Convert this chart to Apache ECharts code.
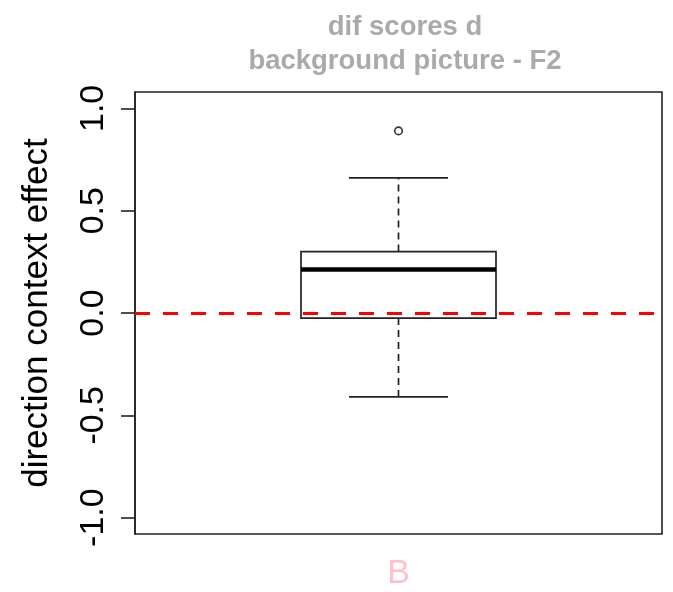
<!DOCTYPE html>
<html>
<head>
<meta charset="utf-8">
<script src="https://cdn.jsdelivr.net/npm/echarts@6/dist/echarts.min.js"></script>
<style>html,body{margin:0;padding:0;background:#fff;}#c{width:673px;height:592px;}</style>
</head>
<body>
<div id="c"></div>
<script>
const categories = ['B'];
const lowerWhisker = [-0.41];
const q1 = [-0.025];
const median = [0.212];
const q3 = [0.30];
const upperWhisker = [0.66];
const outliers = [[0, 0.89]];
const yTicks = [-1.0, -0.5, 0.0, 0.5, 1.0];
const refLine = 0;

const FONT = 'Liberation Sans, Arial, sans-serif';
const chart = echarts.init(document.getElementById('c'));
chart.setOption({
  animation: false,
  backgroundColor: '#fff',
  title: {
    text: 'dif scores d\nbackground picture - F2',
    left: 400, top: 5, textAlign: 'center',
    textStyle: { color: '#aaaaaa', fontWeight: 'bold', fontSize: 27.5, lineHeight: 34, fontFamily: FONT }
  },
  grid: { left: 135, right: 11, top: 92, bottom: 58, show: true, borderColor: '#222', borderWidth: 1.6, backgroundColor: 'transparent' },
  xAxis: {
    type: 'category', data: categories,
    axisLine: { show: false }, axisTick: { show: false },
    axisLabel: { color: '#ffc0cb', fontSize: 34, fontFamily: FONT, margin: 23 }
  },
  yAxis: {
    type: 'value', min: -1.08, max: 1.08,
    name: 'direction context effect', nameLocation: 'middle', nameGap: 80, nameRotate: 90,
    nameTextStyle: { color: '#000', fontSize: 35, fontFamily: FONT },
    axisLine: { show: true, lineStyle: { color: '#222', width: 1.6 } },
    axisTick: { show: true, length: 14, customValues: yTicks, lineStyle: { color: '#222', width: 1.6 } },
    axisLabel: { customValues: yTicks, rotate: 90, color: '#000', fontSize: 34, fontFamily: FONT, margin: 24,
      formatter: v => v.toFixed(1) },
    splitLine: { show: false }
  },
  series: [
    {
      type: 'custom',
      data: categories.map((c, i) => [i, lowerWhisker[i], q1[i], median[i], q3[i], upperWhisker[i]]),
      encode: { x: 0, y: [1, 2, 3, 4, 5] },
      renderItem: function (params, api) {
        const xi = api.value(0);
        const pL = api.coord([xi, api.value(1)]);
        const p1 = api.coord([xi, api.value(2)]);
        const pM = api.coord([xi, api.value(3)]);
        const p3 = api.coord([xi, api.value(4)]);
        const pU = api.coord([xi, api.value(5)]);
        const band = api.size([1, 0])[0];
        const hb = band * 0.185, hc = band * 0.094;
        const cx = pM[0];
        const stroke = '#222';
        return {
          type: 'group',
          children: [
            { type: 'line', shape: { x1: cx, y1: p3[1], x2: cx, y2: pU[1] }, style: { stroke, lineWidth: 1.7, lineDash: [7, 5] } },
            { type: 'line', shape: { x1: cx, y1: p1[1], x2: cx, y2: pL[1] }, style: { stroke, lineWidth: 1.7, lineDash: [7, 5] } },
            { type: 'line', shape: { x1: cx - hc, y1: pU[1], x2: cx + hc, y2: pU[1] }, style: { stroke, lineWidth: 1.7 } },
            { type: 'line', shape: { x1: cx - hc, y1: pL[1], x2: cx + hc, y2: pL[1] }, style: { stroke, lineWidth: 1.7 } },
            { type: 'rect', shape: { x: cx - hb, y: p3[1], width: 2 * hb, height: p1[1] - p3[1] }, style: { fill: 'none', stroke, lineWidth: 1.7 } },
            { type: 'line', shape: { x1: cx - hb, y1: pM[1], x2: cx + hb, y2: pM[1] }, style: { stroke: '#000', lineWidth: 4.5 } }
          ]
        };
      },
      z: 2
    },
    {
      type: 'scatter',
      data: outliers,
      symbol: 'circle', symbolSize: 7.5,
      itemStyle: { color: 'transparent', borderColor: '#000', borderWidth: 1.6 },
      markLine: {
        silent: true, symbol: 'none', label: { show: false },
        data: [{ yAxis: refLine }],
        lineStyle: { color: '#ff0000', width: 3, type: [15, 13] }
      },
      z: 3
    }
  ]
});
</script>
</body>
</html>
